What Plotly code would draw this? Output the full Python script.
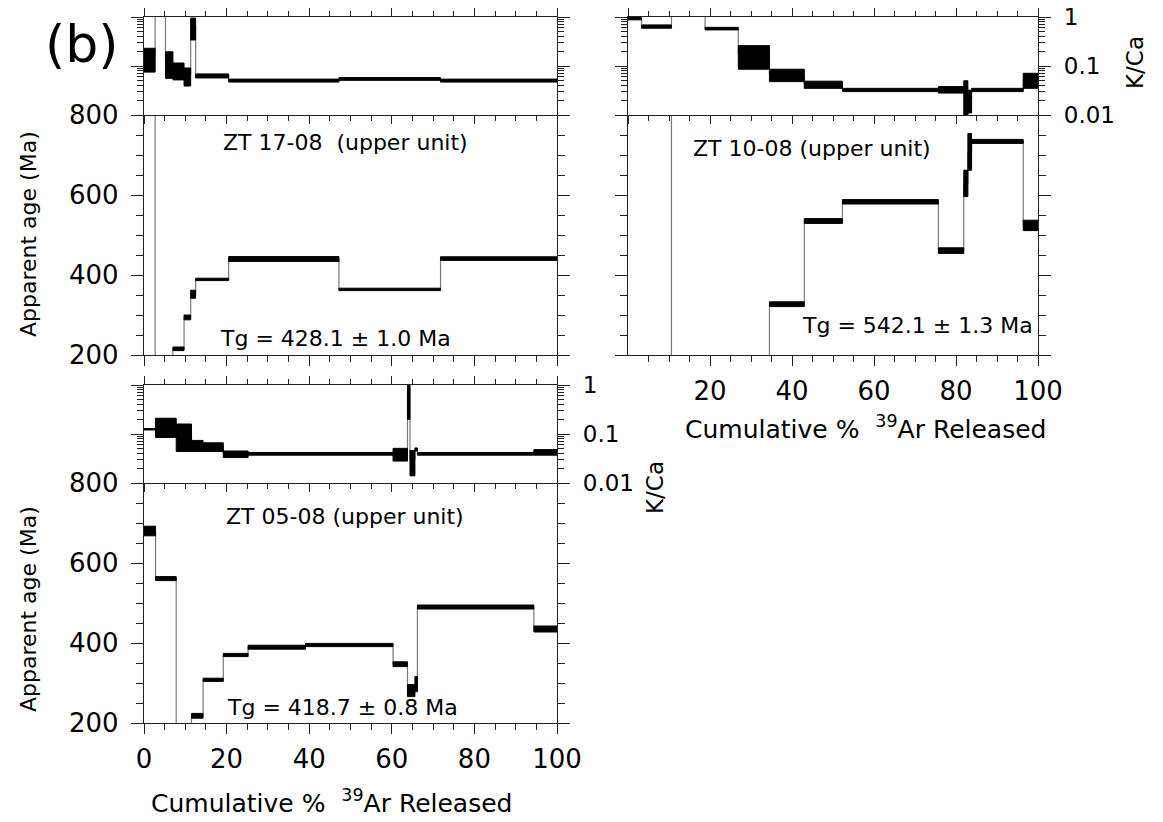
import plotly.graph_objects as go

W, H = 1163, 822

# ---------------- data ----------------
# ZT 17-08 (upper unit)  -- step boundaries (cumulative % 39Ar)
a_cum = [0, 2.7, 5.2, 7.0, 9.7, 11.3, 12.5, 20.5, 47.2, 71.8, 100]
a_age = [950, 150, 150, 215.5, 294, 352, 389, 440, 364, 441]
a_age_err = [10, 10, 10, 4.5, 6, 10, 3, 6, 3, 4.5]
a_kca = [0.1525, 2.0, 0.1255, 0.0835, 0.065, 0.645, 0.063, 0.0505, 0.0545, 0.0505]
a_kca_err = [0.0775, 0.2, 0.0695, 0.0315, 0.026, 0.305, 0.006, 0.0035, 0.0035, 0.0035]

# ZT 10-08 (upper unit)
b_cum = [0, 3.3, 10.6, 18.8, 26.9, 34.5, 43.0, 52.3, 75.7, 81.9, 82.9, 83.8, 96.4, 100]
b_age = [1200, 1200, 100, 100, 100, 327, 535, 583, 461, 629, 708, 734, 524]
b_age_err = [10, 10, 10, 10, 10, 6, 6, 5.5, 7, 33, 46, 5, 13]
b_kca = [0.93, 0.64, 1.5, 0.58, 0.173, 0.067, 0.042, 0.0325, 0.033, 0.0275, 0.0215, 0.0325, 0.053]
b_kca_err = [0.055, 0.05, 0.1, 0.035, 0.087, 0.019, 0.007, 0.0025, 0.005, 0.0225, 0.0105, 0.0025, 0.018]

# ZT 05-08 (upper unit)
c_cum = [0, 2.8, 7.8, 11.5, 14.3, 19.2, 25.2, 39.1, 60.3, 63.8, 64.4, 65.6, 66.2, 94.4, 100]
c_age = [680, 561, 150, 218, 308, 370, 389.5, 395, 347, 281, 281, 297, 490, 435]
c_age_err = [12, 5, 10, 6, 4, 4, 5, 4, 6, 15, 15, 19, 5, 7.5]
c_kca = [0.125, 0.1475, 0.102, 0.059, 0.055, 0.039, 0.0395, 0.0395, 0.0395, 0.85, 0.030, 0.0485, 0.0395, 0.0425]
c_kca_err = [0.004, 0.0625, 0.058, 0.015, 0.011, 0.006, 0.0025, 0.0025, 0.0115, 0.65, 0.016, 0.0035, 0.0025, 0.0055]

labels = ["ZT 17-08  (upper unit)", "ZT 10-08 (upper unit)", "ZT 05-08 (upper unit)"]
tg_labels = ["Tg = 428.1 \u00b1 1.0 Ma", "Tg = 542.1 \u00b1 1.3 Ma", "Tg = 418.7 \u00b1 0.8 Ma"]

age_ticks = [200, 400, 600, 800]
age_minor = [v for v in range(250, 800, 50) if v not in (400, 600)]
x_ticks = [0, 20, 40, 60, 80, 100]
x_minor = [v for v in range(5, 100, 5) if v % 20 != 0]
kca_ticks = [0.01, 0.1, 1]
kca_ticktext = ["0.01", "0.1", "1"]
kca_minor = [m * d for d in (0.01, 0.1) for m in range(2, 10)]

FONT = "DejaVu Sans"

fig = go.Figure()


def add_spectrum(cum, val, err, xa, ya):
    bx, by, cx, cy = [], [], [], []
    for i in range(len(val)):
        x0, x1 = cum[i], cum[i + 1]
        lo, hi = val[i] - err[i], val[i] + err[i]
        bx += [x0, x1, x1, x0, x0, None]
        by += [lo, lo, hi, hi, lo, None]
        if i > 0:
            cx += [x0, x0, None]
            cy += [val[i - 1], val[i], None]
    fig.add_trace(go.Scatter(x=cx, y=cy, mode="lines", xaxis=xa, yaxis=ya,
                             line=dict(color="#7a7a7a", width=1.2), hoverinfo="skip"))
    fig.add_trace(go.Scatter(x=bx, y=by, mode="lines", fill="toself", xaxis=xa, yaxis=ya,
                             fillcolor="black", line=dict(color="black", width=1), hoverinfo="skip"))


# axes: x/y = A age, x2/y2 = A kca, x3/y3 = B age, x4/y4 = B kca, x5/y5 = C age, x6/y6 = C kca
add_spectrum(a_cum, a_age, a_age_err, "x", "y")
add_spectrum(a_cum, a_kca, a_kca_err, "x2", "y2")
add_spectrum(b_cum, b_age, b_age_err, "x3", "y3")
add_spectrum(b_cum, b_kca, b_kca_err, "x4", "y4")
add_spectrum(c_cum, c_age, c_age_err, "x5", "y5")
add_spectrum(c_cum, c_kca, c_kca_err, "x6", "y6")

XL = [144 / W, 557 / W]
XR = [628 / W, 1038 / W]


def ydom(top, bottom):
    return [1 - bottom / H, 1 - top / H]


base = dict(showline=True, linecolor="#222", linewidth=1.3, ticks="outside",
            tickcolor="#222", tickwidth=1.2, showgrid=False, zeroline=False,
            automargin=False,
            tickfont=dict(family=FONT, size=26, color="black"))

minor_base = dict(tickmode="array", ticks="outside", tickcolor="#222", tickwidth=1.2,
                  showgrid=False)


def xage(dom, anchor, labels_on, vals):
    return dict(base, domain=dom, anchor=anchor, range=[0, 100], tickmode="array",
                tickvals=vals, ticklen=10, mirror=False, showticklabels=labels_on,
                ticklabelstandoff=3,
                minor=dict(minor_base, tickvals=x_minor, ticklen=6))


def xkca(dom, anchor):
    return dict(base, domain=dom, anchor=anchor, range=[0, 100], tickmode="array",
                tickvals=x_ticks, ticklen=8, mirror="ticks", showticklabels=False,
                minor=dict(minor_base, tickvals=x_minor, ticklen=5))


def yage(dom, anchor, labels_on):
    return dict(base, domain=dom, anchor=anchor, range=[200, 800], tickmode="array",
                tickvals=age_ticks, ticklen=12, mirror="ticks", showticklabels=labels_on,
                ticklabelstandoff=7,
                minor=dict(minor_base, tickvals=age_minor, ticklen=7))


def ykca(dom, anchor, side, labels_on):
    d = dict(base, domain=dom, anchor=anchor, type="log", range=[-2, 0], tickmode="array",
             tickvals=kca_ticks, ticktext=kca_ticktext, ticklen=12, mirror="ticks",
             side=side, showticklabels=labels_on, ticklabelstandoff=8,
             minor=dict(minor_base, tickvals=kca_minor, ticklen=6))
    d["tickfont"] = dict(family=FONT, size=23, color="black")
    return d


fig.update_layout(
    width=W, height=H, margin=dict(l=0, r=0, t=0, b=0, pad=0, autoexpand=False),
    paper_bgcolor="white", plot_bgcolor="white", showlegend=False,
    xaxis=xage(XL, "y", False, x_ticks),
    yaxis=yage(ydom(115, 355), "x", True),
    xaxis2=xkca(XL, "y2"),
    yaxis2=ykca(ydom(17, 115), "x2", "left", False),
    xaxis3=xage(XR, "y3", True, [20, 40, 60, 80, 100]),
    yaxis3=yage(ydom(115, 355), "x3", False),
    xaxis4=xkca(XR, "y4"),
    yaxis4=ykca(ydom(17, 115), "x4", "right", True),
    xaxis5=xage(XL, "y5", True, x_ticks),
    yaxis5=yage(ydom(483, 723), "x5", True),
    xaxis6=xkca(XL, "y6"),
    yaxis6=ykca(ydom(385, 483), "x6", "right", True),
)


def ann(text, px, py, size, angle=0):
    fig.add_annotation(text=text, x=px / W, y=1 - py / H, xref="paper", yref="paper",
                       xanchor="center", yanchor="middle", showarrow=False, textangle=angle,
                       font=dict(family=FONT, size=size, color="black"))


ann("(b)", 82, 44, 52)
ann(labels[0], 345, 143, 22)
ann(tg_labels[0], 335, 338, 22)
ann(labels[1], 812, 148, 22)
ann(tg_labels[1], 917, 325, 22)
ann(labels[2], 345, 516, 22)
ann(tg_labels[2], 342, 707, 22)

ann("Apparent age (Ma)", 28, 234, 22, -90)
ann("Apparent age (Ma)", 28, 609, 22, -90)
ann("K/Ca", 1135, 63, 23, -90)
ann("K/Ca", 655, 488, 23, -90)
ann("Cumulative %  <sup>39</sup>Ar Released", 865, 427, 25)
ann("Cumulative %  <sup>39</sup>Ar Released", 331, 801, 25)

fig.write_html("out.html")
